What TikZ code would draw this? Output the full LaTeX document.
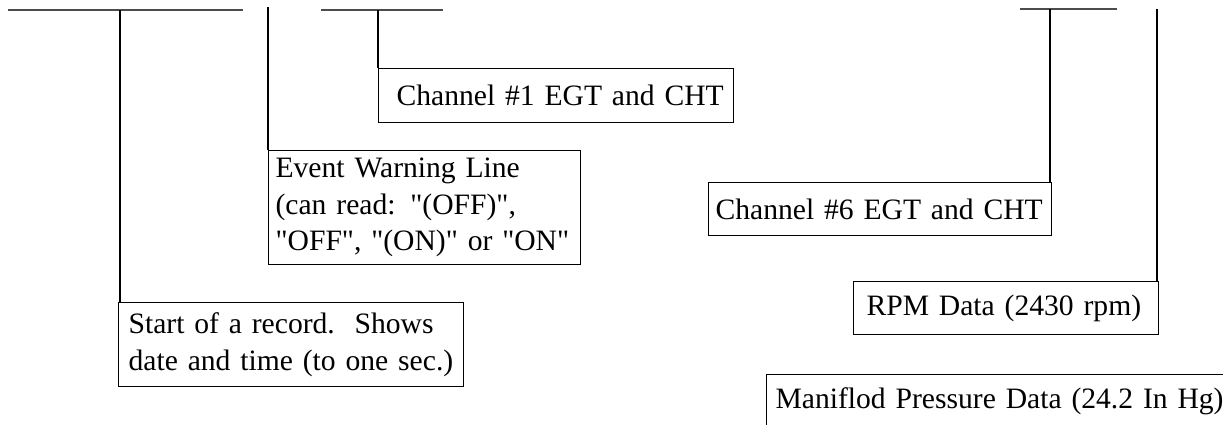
\documentclass[tikz,border=0pt]{standalone}
\usepackage{fontspec}
\setmainfont{Liberation Serif}[Ligatures=TeXOff]
\begin{document}
\begin{tikzpicture}[x=0.5pt,y=-0.5pt,line width=0.6pt,
  box/.style={draw, anchor=north west, align=left, inner ysep=1pt,
    font=\fontsize{14.8}{18.3}\selectfont},
  lead/.style={line width=0.6pt},
  bar/.style={line width=0.8pt, black!70}]
\useasboundingbox (0,0) rectangle (1223,424);
\clip (0,0) rectangle (1223,424);

\node[box, minimum width=172.5pt, minimum height=42pt, inner xsep=5pt, text width=162.5pt] (start) at (118,302)
  {\mbox{Start of a record.\ \ Shows}\\\mbox{date and time (to one sec.)}};
\node[box, minimum width=156pt, minimum height=57pt, inner xsep=3.5pt, text width=149pt] (event) at (268,150)
  {\mbox{Event Warning Line}\\\mbox{(can read: "(OFF)",}\\\mbox{"OFF", "(ON)" or "ON"}};
\node[box, minimum width=177.5pt, minimum height=27pt, inner xsep=9pt, text width=159.5pt] (ch1) at (378,68)
  {\mbox{Channel \#1 EGT and CHT}};
\node[box, minimum width=171.5pt, minimum height=26.5pt, inner xsep=3.5pt, text width=164.5pt] (ch6) at (708,182)
  {\mbox{Channel \#6 EGT and CHT}};
\node[box, minimum width=152.5pt, minimum height=26.5pt, inner xsep=6.5pt, text width=139.5pt] (rpm) at (853,281)
  {\mbox{RPM Data (2430 rpm)}};
\node[box, minimum width=250pt, minimum height=26.5pt, inner xsep=4.5pt, text width=241pt] (map) at (766,374)
  {\mbox{Maniflod Pressure Data (24.2 In Hg)}};

\coordinate (a1) at (8,10); \coordinate (a2) at (243,10); \coordinate (a3) at (120,10);
\draw[bar] (a1) -- (a2);
\draw[lead] (a3) -- (a3 |- start.north);
\coordinate (b) at (268,7);
\draw[lead] (b) -- (event.north west);
\coordinate (c1) at (321,10); \coordinate (c2) at (443,10); \coordinate (c3) at (378,10);
\draw[bar] (c1) -- (c2);
\draw[lead] (c3) -- (ch1.north west);
\coordinate (d1) at (1020,9); \coordinate (d2) at (1117,9); \coordinate (d3) at (1050,9);
\draw[bar] (d1) -- (d2);
\draw[lead] (d3) -- (d3 |- ch6.north);
\coordinate (e) at (1157,9);
\draw[lead] (e) -- (e |- rpm.north);
\end{tikzpicture}
\end{document}
